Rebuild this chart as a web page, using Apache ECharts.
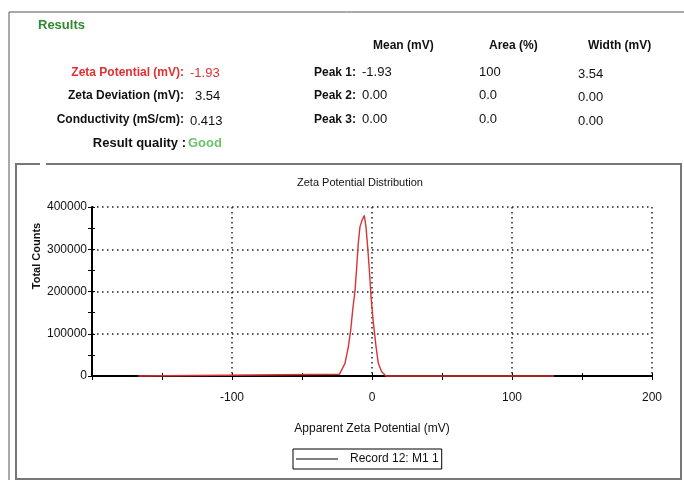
<!DOCTYPE html>
<html>
<head>
<meta charset="utf-8">
<style>
  html, body { margin: 0; padding: 0; background: #fff; }
  #chart { width: 684px; height: 480px; }
</style>
<script src="https://cdn.jsdelivr.net/npm/echarts@6/dist/echarts.min.js"></script>
</head>
<body>
<div id="chart"></div>
<script>
// distribution curve
const potential = [-167, -23.3, -19.3, -16.9, -15.2, -13.8, -12.1, -10.9, -9.8, -8.6, -7.1, -5.5, -4.3, -3.1, -1.9, -0.7, 1.0, 2.9, 4.5, 6.9, 10, 130]
const counts = [0, 4000, 30000, 69000, 109000, 156000, 203000, 259000, 314000, 353000, 369000, 380000, 353000, 306000, 251000, 188000, 125000, 69000, 30000, 10000, 0, 0]

const xTicks = [-200, -100, 0, 100, 200]
const yTicks = [0, 100000, 200000, 300000, 400000]

// results block
const summaryLabels = ['Zeta Potential (mV):', 'Zeta Deviation (mV):', 'Conductivity (mS/cm):']
const summaryValues = ['-1.93', '3.54', '0.413']
const peakNames = ['Peak 1:', 'Peak 2:', 'Peak 3:']
const peakMean = ['-1.93', '0.00', '0.00']
const peakArea = ['100', '0.0', '0.0']
const peakWidth = ['3.54', '0.00', '0.00']
const seriesName = 'Record 12: M1 1'

const sans = "'Liberation Sans', Arial, sans-serif"

const txt = (text, x, y, font, fill, align) => ({
  type: 'text', silent: true,
  style: { text, x, y, font, fill: fill || '#111', align: align || 'left', verticalAlign: 'middle' }
})

const rowY = [73, 96, 120]
const header = [
  txt('Results', 38, 25, 'bold 13px ' + sans, '#2e8b2e'),
  txt('Mean (mV)', 373, 46, 'bold 12px ' + sans),
  txt('Area (%)', 489, 46, 'bold 12px ' + sans),
  txt('Width (mV)', 588, 46, 'bold 12px ' + sans),
  txt('Result quality :', 186, 143, 'bold 13px ' + sans, '#111', 'right'),
  txt('Good', 188, 143, 'bold 13px ' + sans, '#6cc36c')
]
summaryLabels.forEach((l, i) => {
  const red = i === 0 ? '#e03030' : '#111'
  header.push(txt(l, 184, rowY[i], 'bold 12px ' + sans, red, 'right'))
  header.push(txt(summaryValues[i], i === 1 ? 195 : 190, rowY[i] + (i === 2 ? 1 : 0), '13px ' + sans, red))
})
peakNames.forEach((p, i) => {
  header.push(txt(p, 314, rowY[i], 'bold 12px ' + sans))
  header.push(txt(peakMean[i], 362, rowY[i] - 1, '13px ' + sans))
  header.push(txt(peakArea[i], 479, rowY[i] - 1, '13px ' + sans))
  header.push(txt(peakWidth[i], 578, rowY[i] + 1, '13px ' + sans))
})

const yName = txt('Total Counts', 0, 0, 'bold 11px ' + sans, '#111', 'center')
yName.x = 37; yName.y = 256; yName.rotation = Math.PI / 2

const frames = [
  { type: 'line', silent: true, shape: { x1: 9, y1: 12, x2: 684, y2: 12 }, style: { stroke: '#555', lineWidth: 1 } },
  { type: 'line', silent: true, shape: { x1: 9, y1: 12, x2: 9, y2: 480 }, style: { stroke: '#555', lineWidth: 1 } },
  { type: 'polyline', silent: true, shape: { points: [[46, 164], [681, 164], [681, 479], [16, 479], [16, 164], [40, 164]] }, style: { stroke: '#777', lineWidth: 2, fill: null } },
  yName
]

const chart = echarts.init(document.getElementById('chart'))

const tickStyle = { color: '#000' }
const dotted = { color: '#222', type: [1.5, 3.5], width: 1.5 }

chart.setOption({
  backgroundColor: '#fff',
  animation: false,
  title: {
    text: 'Zeta Potential Distribution', left: 355, top: 172, textAlign: 'center',
    textStyle: { fontFamily: sans, fontSize: 11, fontWeight: 'normal', color: '#111' }
  },
  legend: {
    left: 293, top: 449,
    data: [{ name: seriesName, icon: 'rect', itemStyle: { color: '#000' } }],
    itemWidth: 42, itemHeight: 1,
    padding: [4, 3, 4, 3],
    borderColor: '#000', borderWidth: 1,
    textStyle: { fontFamily: sans, fontSize: 12, color: '#111', padding: [0, 0, 0, 7] }
  },
  grid: { left: 92, right: 32, top: 207, bottom: 104, containLabel: false },
  xAxis: [{
    type: 'value', min: xTicks[0], max: xTicks[xTicks.length - 1], interval: 100,
    name: 'Apparent Zeta Potential (mV)', nameLocation: 'middle', nameGap: 47,
    nameTextStyle: { fontFamily: sans, fontSize: 12, color: '#111' },
    axisLine: { onZero: false, lineStyle: { color: '#000', width: 2 } },
    axisTick: { length: 4, lineStyle: tickStyle },
    minorTick: { show: true, splitNumber: 2, length: 4, lineStyle: tickStyle },
    axisLabel: { margin: 16, fontFamily: sans, fontSize: 12, color: '#111', formatter: v => v === xTicks[0] ? '' : String(v) },
    splitLine: { show: true, lineStyle: dotted }
  }, {
    type: 'value', min: xTicks[0], max: xTicks[xTicks.length - 1], interval: 100, position: 'bottom',
    axisLine: { show: false, onZero: false }, axisLabel: { show: false }, splitLine: { show: false },
    axisTick: { inside: true, length: 3, lineStyle: tickStyle },
    minorTick: { show: true, splitNumber: 2, length: 3, lineStyle: tickStyle }
  }],
  yAxis: [{
    type: 'value', min: yTicks[0], max: yTicks[yTicks.length - 1], interval: 100000,
    axisLine: { show: true, onZero: false, lineStyle: { color: '#000', width: 2 } },
    axisTick: { show: true, length: 4, lineStyle: tickStyle },
    minorTick: { show: true, splitNumber: 2, length: 4, lineStyle: tickStyle },
    axisLabel: { margin: 5, fontFamily: sans, fontSize: 12, color: '#111', formatter: v => String(v) },
    splitLine: { show: true, lineStyle: dotted }
  }, {
    type: 'value', min: yTicks[0], max: yTicks[yTicks.length - 1], interval: 100000, position: 'left',
    axisLine: { show: false, onZero: false }, axisLabel: { show: false }, splitLine: { show: false },
    axisTick: { show: true, inside: true, length: 3, lineStyle: tickStyle },
    minorTick: { show: true, splitNumber: 2, length: 3, lineStyle: tickStyle }
  }],
  graphic: frames.concat(header),
  series: [{
    name: seriesName, type: 'line', showSymbol: false, smooth: false, clip: false,
    data: potential.map((x, i) => [x, counts[i]]),
    lineStyle: { color: '#d83434', width: 1.4 },
    itemStyle: { color: '#d83434' },
    z: 5
  }]
})
</script>
</body>
</html>
